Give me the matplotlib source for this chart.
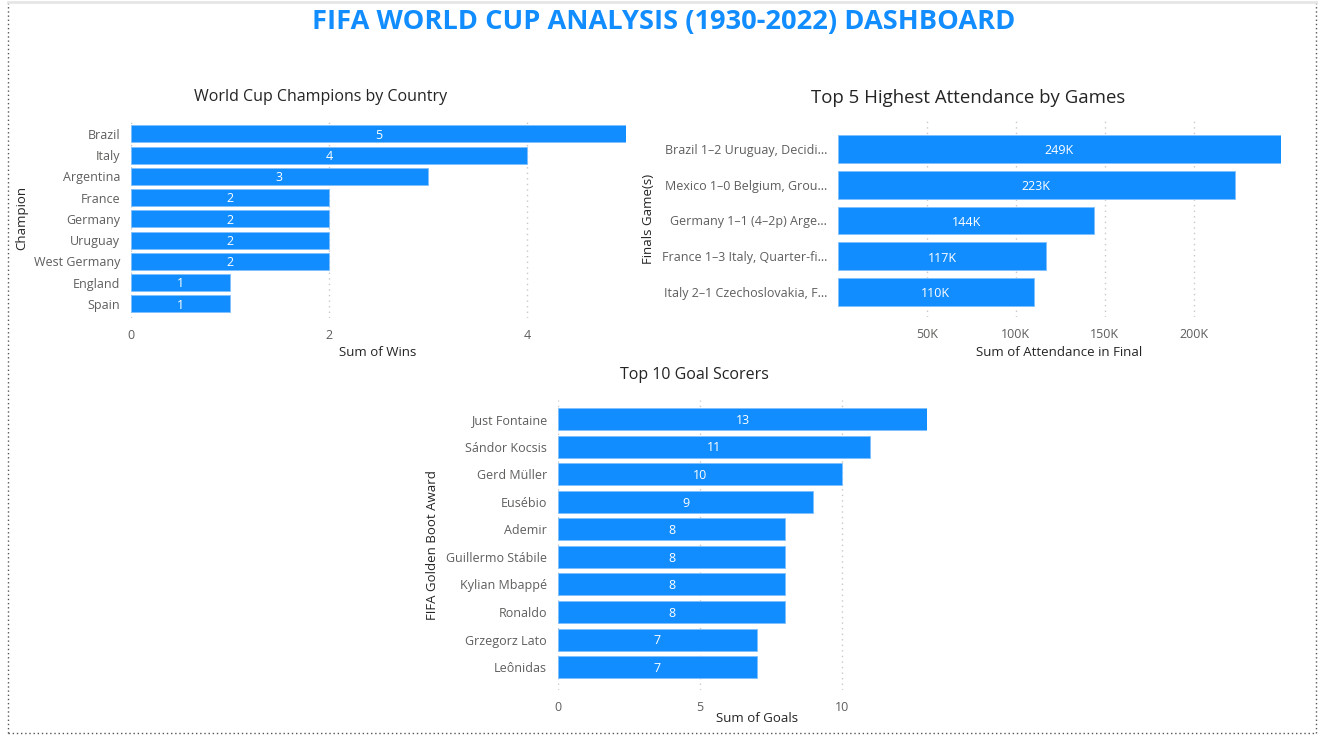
import matplotlib
matplotlib.use('Agg')
import matplotlib.pyplot as plt
from matplotlib.lines import Line2D
from matplotlib.ticker import FuncFormatter

# 数据
champions = ["Brazil", "Italy", "Argentina", "France", "Germany", "Uruguay",
             "West Germany", "England", "Spain"]
wins = [5, 4, 3, 2, 2, 2, 2, 1, 1]

games = ["Brazil 1\u20132 Uruguay, Decidi...", "Mexico 1\u20130 Belgium, Grou...",
         "Germany 1\u20131 (4\u20132p) Arge...", "France 1\u20133 Italy, Quarter-fi...",
         "Italy 2\u20131 Czechoslovakia, F..."]
attendance = [249000, 223000, 144000, 117000, 110000]

scorers = ["Just Fontaine", "Sándor Kocsis", "Gerd Müller", "Eusébio", "Ademir",
           "Guillermo Stábile", "Kylian Mbappé", "Ronaldo", "Grzegorz Lato", "Leônidas"]
goals = [13, 11, 10, 9, 8, 8, 8, 8, 7, 7]

BLUE = "#118DFF"
W, H = 1323, 735

plt.rcParams['font.family'] = ['Open Sans', 'DejaVu Sans']

fig = plt.figure(figsize=(W / 100, H / 100), dpi=100)


def box(x0, y0, x1, y1):
    """像素坐标 -> figure 坐标"""
    return [x0 / W, 1 - y1 / H, (x1 - x0) / W, (y1 - y0) / H]


def bar_panel(rect, labels, values, height, ylim, xlim, ticks, fmt, title,
              xlabel, ylabel, title_px, xlabel_px, ylabel_x, label_fmt, title_size=12):
    ax = fig.add_axes(box(*rect))
    y = list(range(len(labels)))
    bars = ax.barh(y, values, height=height, color=BLUE, edgecolor="#7FC0FF", linewidth=0.6)
    ax.set_ylim(*ylim)
    ax.set_xlim(*xlim)
    ax.set_yticks(y)
    ax.set_yticklabels(labels, fontsize=9, color="#605E5C")
    ax.set_xticks(ticks)
    ax.xaxis.set_major_formatter(FuncFormatter(fmt))
    ax.tick_params(axis="x", labelsize=9, labelcolor="#605E5C", length=0, pad=8)
    ax.tick_params(axis="y", length=0, pad=8)
    for s in ax.spines.values():
        s.set_visible(False)
    ax.grid(axis="x", linestyle=(0, (1, 3)), color="#C8C8C8", linewidth=1)
    ax.set_axisbelow(True)
    for b, v in zip(bars, values):
        ax.text(b.get_width() / 2, b.get_y() + b.get_height() / 2 + 0.05, label_fmt(v),
                ha="center", va="center", color="white", fontsize=9)
    x0, y0, x1, y1 = rect
    fig.text(title_px[0] / W, 1 - title_px[1] / H, title, ha="center", va="center",
             fontsize=title_size, color="#252423")
    fig.text(xlabel_px[0] / W, 1 - xlabel_px[1] / H, xlabel, ha="center", va="center",
             fontsize=9.5, color="#252423")
    fig.text(ylabel_x / W, 1 - ((y0 + y1) / 2) / H, ylabel, ha="center", va="center",
             rotation=90, fontsize=9.5, color="#252423")
    return ax


# 冠军次数
bar_panel((131, 118, 626, 318), champions, wins, 0.8, (8.66, -0.75), (0, 5),
          [0, 2, 4], lambda v, p: f"{v:.0f}", "World Cup Champions by Country",
          "Sum of Wins", "Champion", (321, 97), (378, 352), 22,
          lambda v: f"{v}", title_size=11.5)

# 上座人数
bar_panel((838, 120, 1281, 317), games, attendance, 0.78, (4.7, -0.81), (0, 249000),
          [50000, 100000, 150000, 200000], lambda v, p: f"{v / 1000:.0f}K",
          "Top 5 Highest Attendance by Games", "Sum of Attendance in Final",
          "Finals Game(s)", (968, 98), (1059, 352), 648,
          lambda v: f"{v / 1000:.0f}K", title_size=13.4)

# 射手榜
bar_panel((558, 400, 927, 690), scorers, goals, 0.8, (9.83, -0.69), (0, 13),
          [0, 5, 10], lambda v, p: f"{v:.0f}", "Top 10 Goal Scorers",
          "Sum of Goals", "FIFA Golden Boot Award", (694, 375), (757, 719), 433,
          lambda v: f"{v}", title_size=11.5)

# 标题
fig.text(664 / W, 1 - 22 / H, "FIFA WORLD CUP ANALYSIS (1930-2022) DASHBOARD",
         ha="center", va="center", fontsize=19.6, fontweight="bold", color=BLUE)

# 虚线边框（左、右、下）
xl, xr, yb = 8 / W, 1316 / W, 1 - 733 / H
for xs, ys in [([xl, xl], [yb, 1]), ([xr, xr], [yb, 1]), ([xl, xr], [yb, yb])]:
    fig.add_artist(Line2D(xs, ys, transform=fig.transFigure, color="#555555",
                          linestyle=(0, (1, 2)), linewidth=1))
# 顶部淡阴影
fig.add_artist(Line2D([xl, xr], [1 - 1.5 / H, 1 - 1.5 / H], transform=fig.transFigure,
                      color="#E6E6E6", linewidth=2))

fig.savefig("out.png", dpi=100)
